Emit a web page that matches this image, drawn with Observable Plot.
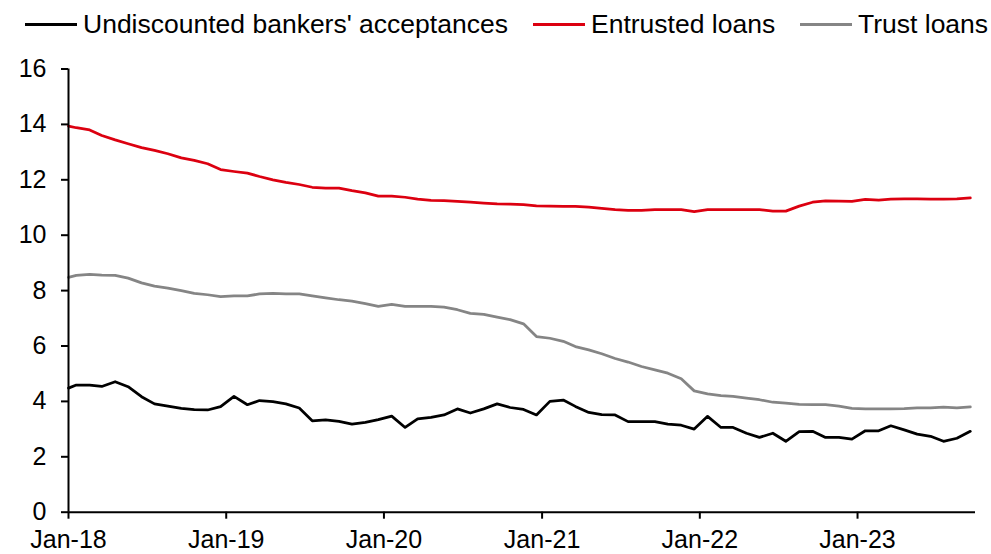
<!DOCTYPE html>
<html>
<head>
<meta charset="utf-8">
<script src="https://cdn.jsdelivr.net/npm/d3@7"></script>
<script src="https://cdn.jsdelivr.net/npm/@observablehq/plot@0.6"></script>
<style>
  body { margin: 0; background: #fff; font-family: "Liberation Sans", Arial, sans-serif; }
  #wrap { width: 991px; height: 554px; position: relative; overflow: hidden; background: #fff; }
  #legend { position: relative; height: 48px; font-size: 26.5px; color: #000; }
  .item { position: absolute; top: 0; height: 48px; display: flex; align-items: center; white-space: nowrap; }
  .swatch { display: inline-block; width: 52px; height: 3px; margin-right: 6px; }
  #plot svg { display: block; }
</style>
</head>
<body>
<div id="wrap">
  <div id="legend"></div>
  <div id="plot"></div>
</div>
<script>
// ---- Data ----
const seriesNames = ["Undiscounted bankers' acceptances", "Entrusted loans", "Trust loans"];
const seriesColors = ["#000000", "#dc0010", "#858585"];

// Value at the left edge of the axis (start of Jan-18)
const startValues = [4.48, 13.94, 8.48];

// Monthly values, Jan-18 .. Sep-23
const bankersAcceptances = [
  4.59, 4.59, 4.54, 4.71, 4.53, 4.17, 3.91, 3.83, 3.75, 3.70, 3.69, 3.81,
  4.18, 3.88, 4.03, 3.99, 3.91, 3.76, 3.30, 3.33, 3.28, 3.18, 3.24, 3.34,
  3.47, 3.06, 3.37, 3.42, 3.51, 3.73, 3.58, 3.73, 3.91, 3.78, 3.71, 3.51,
  4.00, 4.05, 3.82, 3.60, 3.52, 3.51, 3.27, 3.27, 3.27, 3.18, 3.14, 3.00,
  3.46, 3.06, 3.06, 2.85, 2.70, 2.85, 2.56, 2.91, 2.92, 2.70, 2.70, 2.64,
  2.94, 2.94, 3.12, 2.97, 2.82, 2.74, 2.56, 2.67, 2.92
];
const entrustedLoans = [
  13.88, 13.80, 13.60, 13.44, 13.30, 13.16, 13.06, 12.94, 12.79, 12.70, 12.58, 12.37,
  12.30, 12.24, 12.12, 12.00, 11.91, 11.83, 11.73, 11.70, 11.70, 11.61, 11.53, 11.41,
  11.41, 11.37, 11.30, 11.26, 11.25, 11.22, 11.19, 11.16, 11.13, 11.12, 11.10, 11.06,
  11.05, 11.04, 11.04, 11.01, 10.97, 10.92, 10.90, 10.90, 10.92, 10.92, 10.92, 10.85,
  10.92, 10.92, 10.92, 10.92, 10.92, 10.87, 10.87, 11.05, 11.19, 11.24, 11.23, 11.22,
  11.29, 11.27, 11.30, 11.31, 11.31, 11.30, 11.30, 11.31, 11.35
];
const trustLoans = [
  8.55, 8.59, 8.56, 8.55, 8.45, 8.28, 8.16, 8.09, 8.00, 7.90, 7.85, 7.78,
  7.81, 7.81, 7.88, 7.90, 7.88, 7.88, 7.81, 7.74, 7.67, 7.62, 7.53, 7.43,
  7.50, 7.43, 7.43, 7.43, 7.40, 7.31, 7.18, 7.14, 7.04, 6.95, 6.80, 6.34,
  6.28, 6.17, 5.98, 5.86, 5.72, 5.55, 5.42, 5.26, 5.14, 5.02, 4.82, 4.38,
  4.27, 4.21, 4.18, 4.12, 4.06, 3.97, 3.94, 3.89, 3.88, 3.88, 3.83, 3.75,
  3.73, 3.73, 3.73, 3.74, 3.77, 3.77, 3.79, 3.77, 3.80
];

const xTickDates = ["2018-01-01", "2019-01-01", "2020-01-01", "2021-01-01", "2022-01-01", "2023-01-01"];
const xTickLabels = ["Jan-18", "Jan-19", "Jan-20", "Jan-21", "Jan-22", "Jan-23"];
const yTicks = [0, 2, 4, 6, 8, 10, 12, 14, 16];

// ---- Build table ----
const axisStart = new Date(Date.UTC(2018, 0, 1));
const axisEnd = new Date(Date.UTC(2023, 9, 1));
const seriesValues = [bankersAcceptances, entrustedLoans, trustLoans];
const rows = [];
seriesValues.forEach((vals, s) => {
  rows.push({ series: seriesNames[s], date: axisStart, value: startValues[s] });
  vals.forEach((v, k) => {
    const d = d3.utcDay.offset(d3.utcMonth.offset(axisStart, k), 18);
    rows.push({ series: seriesNames[s], date: d, value: v });
  });
});
const tickDates = xTickDates.map(s => new Date(s + "T00:00:00Z"));
const labelMap = new Map(tickDates.map((d, i) => [+d, xTickLabels[i]]));

// ---- Legend ----
const legendX = [25, 533, 800];
const legend = document.getElementById("legend");
seriesNames.forEach((name, i) => {
  const it = document.createElement("div");
  it.className = "item";
  it.style.left = legendX[i] + "px";
  const sw = document.createElement("span");
  sw.className = "swatch";
  sw.style.background = seriesColors[i];
  it.appendChild(sw);
  it.appendChild(document.createTextNode(name));
  legend.appendChild(it);
});

// ---- Chart ----
const chart = Plot.plot({
  width: 991,
  height: 506,
  marginTop: 20.5,
  marginBottom: 42.3,
  marginLeft: 68,
  marginRight: 16,
  style: { fontFamily: "'Liberation Sans', Arial, sans-serif", fontSize: "25px", color: "#000", background: "transparent" },
  x: { type: "utc", domain: [axisStart, axisEnd] },
  y: { domain: [0, 16] },
  marks: [
    Plot.axisY(yTicks, { tickSize: 7, tickPadding: 15, strokeWidth: 2, label: null, fontSize: 25 }),
    Plot.axisX(tickDates, { tickSize: 7, tickPadding: 11, strokeWidth: 2, label: null, fontSize: 25, tickFormat: d => labelMap.get(+d) }),
    Plot.line(rows, {
      x: "date", y: "value", z: "series",
      stroke: "series",
      strokeWidth: 2.75
    }),
    Plot.ruleX([axisStart], { stroke: "#000", strokeWidth: 2 }),
    Plot.ruleY([0], { stroke: "#000", strokeWidth: 2 })
  ],
  color: { domain: seriesNames, range: seriesColors }
});
document.getElementById("plot").appendChild(chart);
</script>
</body>
</html>
